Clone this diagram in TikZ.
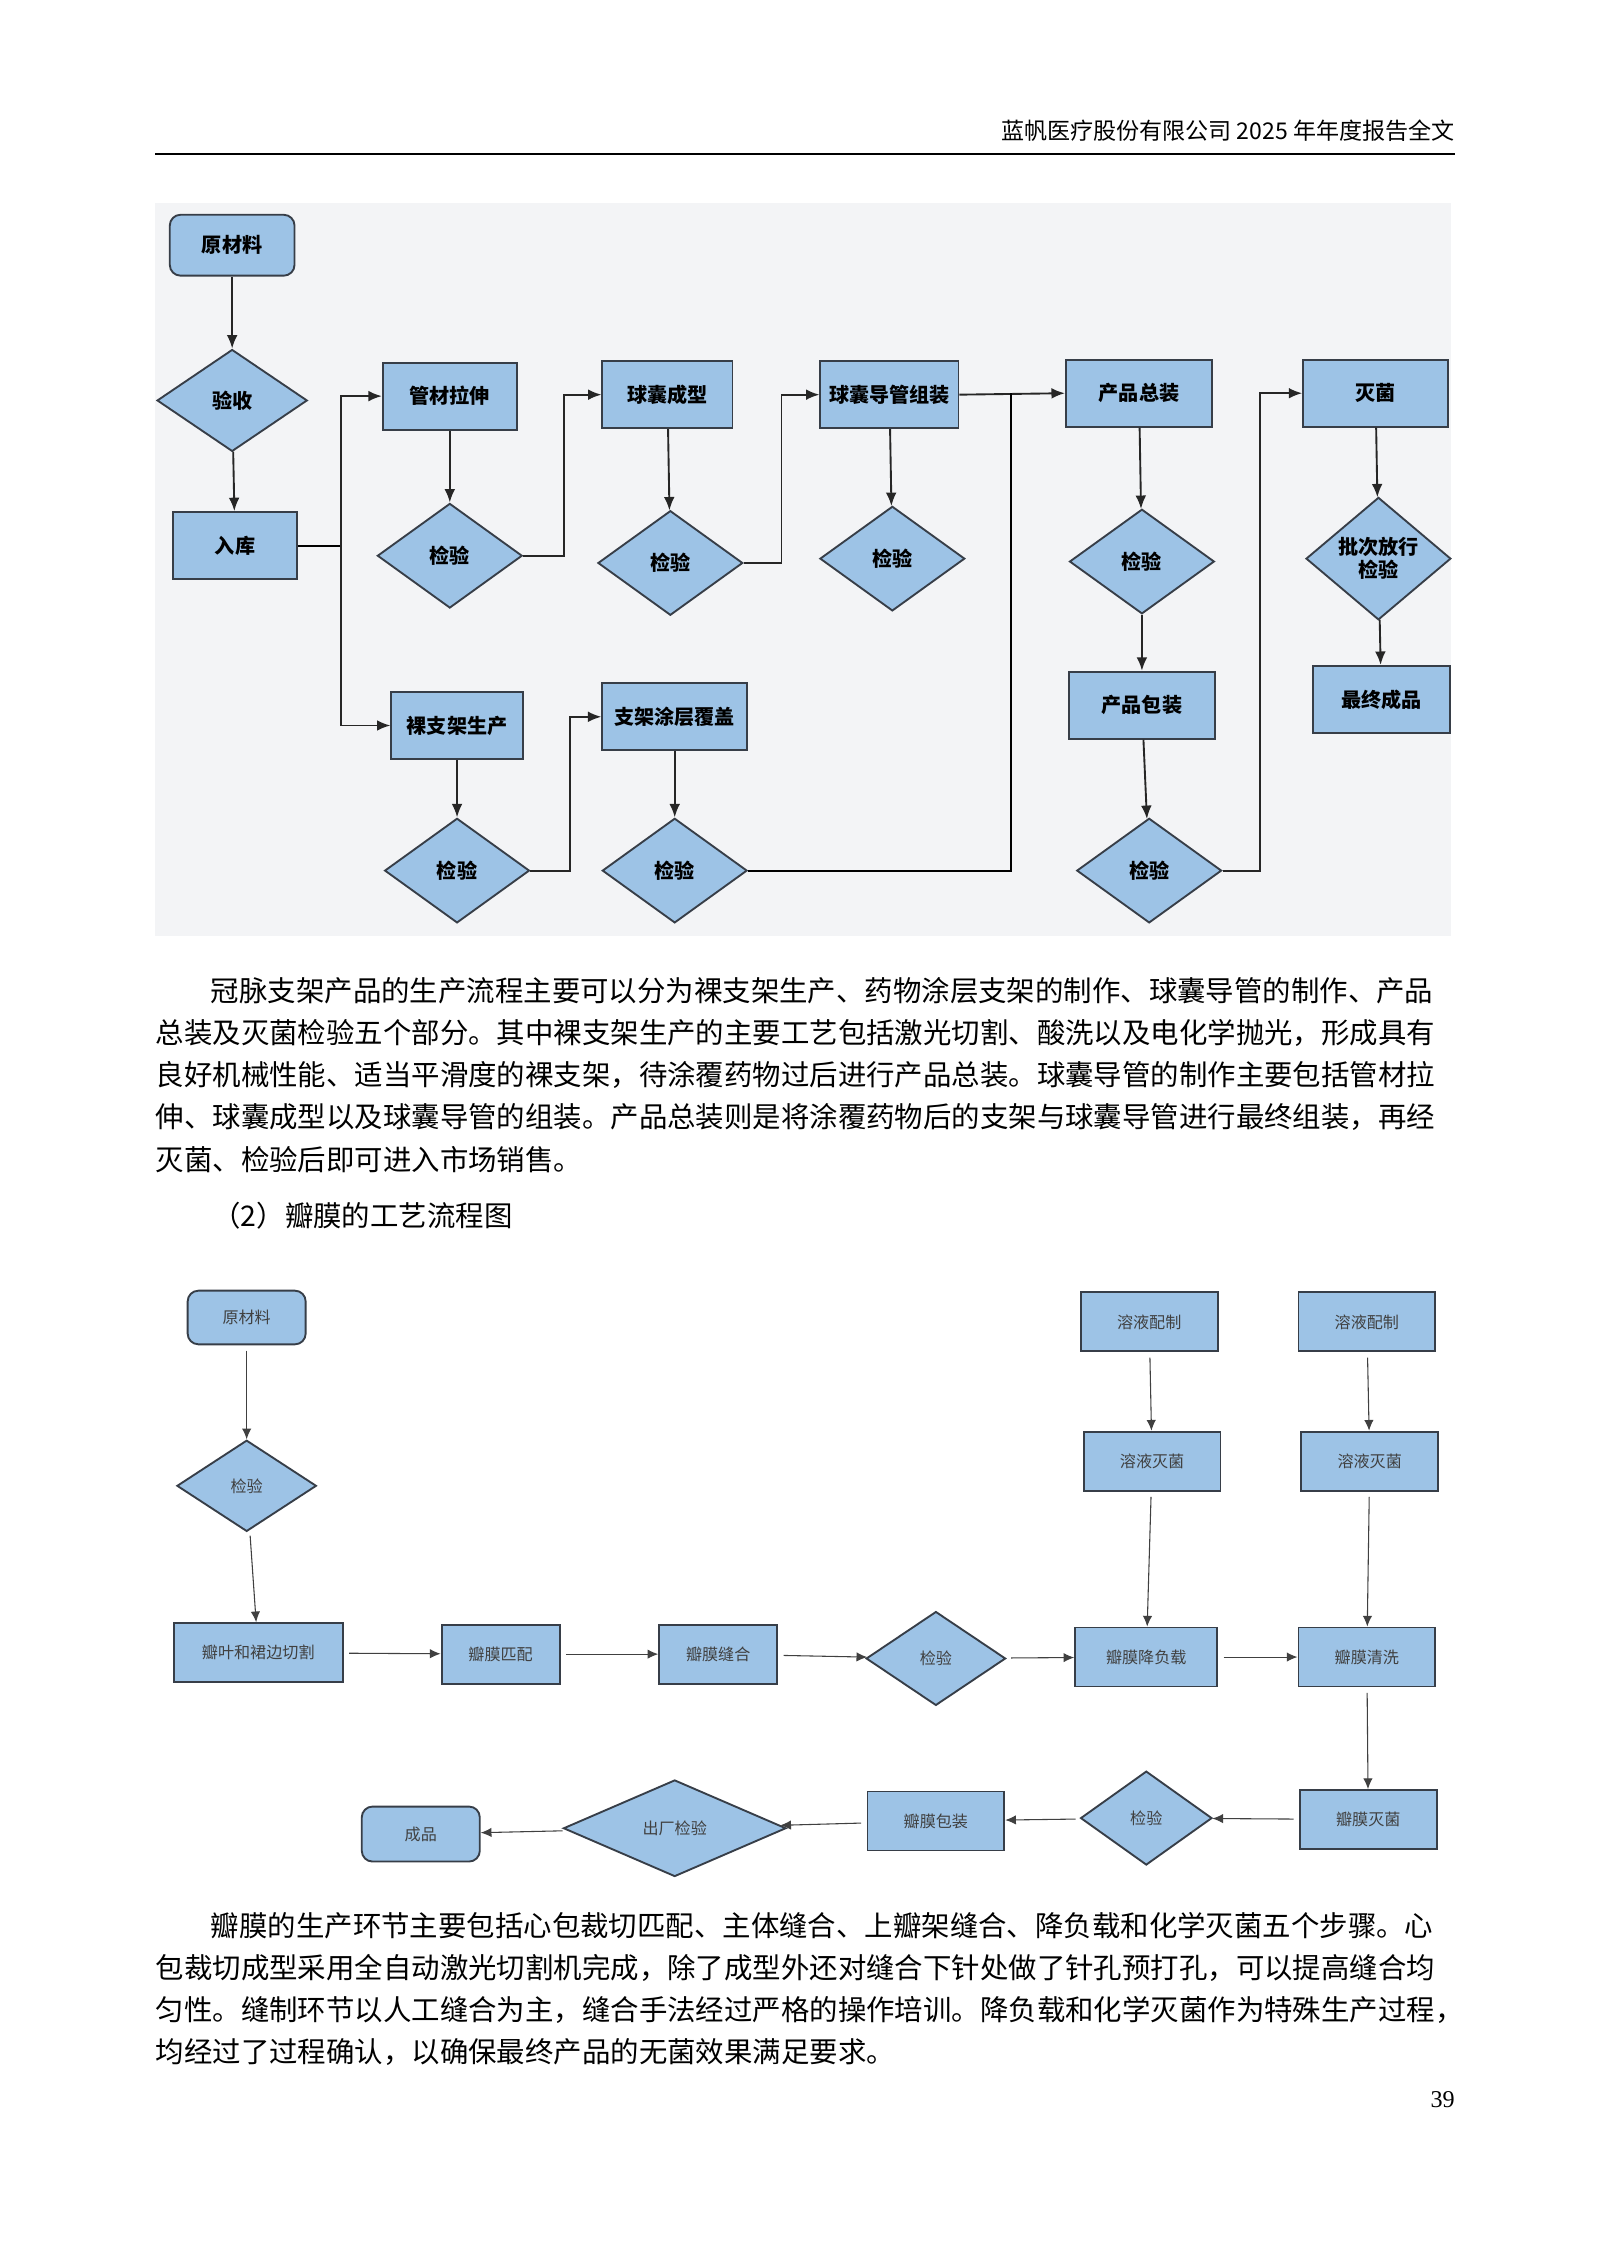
\documentclass[tikz,border=0pt]{standalone}
\usepackage{fontspec}
\setmainfont{Liberation Serif}
\newfontfamily\cjk{Noto Sans CJK SC}
\usetikzlibrary{shapes.geometric,arrows.meta}
\definecolor{boxblue}{RGB}{157,195,230}
\definecolor{boxline}{RGB}{55,62,72}
\definecolor{bggray}{RGB}{243,244,246}
\tikzset{
  box/.style={draw=boxline, fill=boxblue, line width=0.7pt, minimum width=50pt, minimum height=25pt, inner sep=1pt, font=\cjk\bfseries\fontsize{7.5}{8}\selectfont},
  rbox/.style={box, rounded corners=4pt},
  dia/.style={draw=boxline, fill=boxblue, line width=0.7pt, shape=diamond, minimum width=54pt, minimum height=39pt, inner sep=0pt, font=\cjk\bfseries\fontsize{7.5}{8}\selectfont},
  sbox/.style={box, minimum width=50pt, minimum height=22pt, font=\cjk\fontsize{6}{6.5}\selectfont, text=black!75},
  srbox/.style={sbox, rounded corners=4pt},
  sdia/.style={dia, minimum width=52pt, minimum height=34pt, font=\cjk\fontsize{6}{6.5}\selectfont, text=black!75},
  arr/.style={-{Latex[length=5pt,width=4pt]}, line width=0.7pt, black!85},
  sarr/.style={-{Latex[length=4pt,width=3.5pt]}, line width=0.4pt, black!75, shorten <=2pt},
  txt/.style={anchor=west, inner sep=0pt, font=\cjk\fontsize{10.6}{12}\selectfont}
}
\begin{document}
\begin{tikzpicture}[x=0.541pt,y=-0.541pt]
  \useasboundingbox[fill=white] (0,0) rectangle (1100,1555.5);

  % Header
  \node[anchor=east, inner sep=0pt, font=\cjk\fontsize{8.6}{10}\selectfont] (head) at (1003,90) {蓝帆医疗股份有限公司 2025 年年度报告全文};
  \draw[line width=0.7pt] (107,106) -- (1003,106);

  % Stent flow chart
  \fill[bggray] (107,140) rectangle (1000,645);

  \node[rbox, minimum width=46.5pt, minimum height=22.7pt] (yl) at (160,169) {原材料};
  \node[dia, minimum width=56pt, minimum height=38pt] (ys) at (160,276) {验收};
  \node[box, minimum width=46.5pt] (rk) at (162,376) {入库};
  \node[box] (gc) at (310,273) {管材拉伸};
  \node[dia] (jy1) at (310,383) {检验};
  \node[box, minimum width=48.5pt] (qn) at (460,272) {球囊成型};
  \node[dia] (jy2) at (462,388) {检验};
  \node[box, minimum width=51.5pt] (zz) at (613,272) {球囊导管组装};
  \node[dia] (jy3) at (615,385) {检验};
  \node[box, minimum width=54.6pt] (zong) at (785,271) {产品总装};
  \node[dia] (jy4) at (787,387) {检验};
  \node[box, minimum width=54.6pt] (bzh) at (787,486) {产品包装};
  \node[dia] (jy5) at (792,600) {检验};
  \node[box, minimum width=54pt] (mj) at (948,271) {灭菌};
  \node[dia, align=center, font=\cjk\bfseries\fontsize{7.5}{8.5}\selectfont] (pc) at (950,385) {批次放行\\检验};
  \node[box, minimum width=51pt] (zc) at (952,482) {最终成品};
  \node[box, minimum width=49pt] (lz) at (315,500) {裸支架生产};
  \node[dia] (jy6) at (315,600) {检验};
  \node[box, minimum width=54pt] (tc) at (465,494) {支架涂层覆盖};
  \node[dia] (jy7) at (465,600) {检验};

  \coordinate (bus) at (235,376);
  \coordinate (jn) at (697,271);

  \draw[arr] (yl) -- (ys);
  \draw[arr] (ys) -- (rk);
  \draw[line width=0.7pt] (rk.east) -- (bus);
  \draw[arr] (bus) |- (gc.west);
  \draw[arr] (bus) |- (lz.west);
  \draw[arr] (gc) -- (jy1);
  \draw[arr] (jy1.east) -- ++(28,0) |- (qn.west);
  \draw[arr] (qn) -- (jy2);
  \draw[arr] (jy2.east) -- ++(26,0) |- (zz.west);
  \draw[arr] (zz) -- (jy3);
  \draw[arr] (zz.east) -- (zong.west);
  \draw[line width=0.7pt] (jy7.east) -| (jn);
  \draw[arr] (zong) -- (jy4);
  \draw[arr] (jy4) -- (bzh);
  \draw[arr] (bzh) -- (jy5);
  \draw[arr] (jy5.east) -- ++(26,0) |- (mj.west);
  \draw[arr] (mj) -- (pc);
  \draw[arr] (pc) -- (zc);
  \draw[arr] (lz) -- (jy6);
  \draw[arr] (jy6.east) -- ++(27,0) |- (tc.west);
  \draw[arr] (tc) -- (jy7);

  % Text
  \node[txt] (p1a) at (145,683) {冠脉支架产品的生产流程主要可以分为裸支架生产、药物涂层支架的制作、球囊导管的制作、产品};
  \node[txt] (p1b) at (107,712) {总装及灭菌检验五个部分。其中裸支架生产的主要工艺包括激光切割、酸洗以及电化学抛光，形成具有};
  \node[txt] (p1c) at (107,741) {良好机械性能、适当平滑度的裸支架，待涂覆药物过后进行产品总装。球囊导管的制作主要包括管材拉};
  \node[txt] (p1d) at (107,770) {伸、球囊成型以及球囊导管的组装。产品总装则是将涂覆药物后的支架与球囊导管进行最终组装，再经};
  \node[txt] (p1e) at (107,799) {灭菌、检验后即可进入市场销售。};
  \node[txt] (sub) at (146,838) {（2）瓣膜的工艺流程图};

  % Valve flow chart
  \node[srbox, minimum width=44pt, minimum height=20pt] (yl2) at (170,908) {原材料};
  \node[sdia] (jy8) at (170,1024) {检验};
  \node[sbox, minimum width=63pt] (qg) at (178,1139) {瓣叶和裙边切割};
  \node[sbox, minimum width=44pt] (pp) at (345,1140) {瓣膜匹配};
  \node[sbox, minimum width=44pt] (fh) at (495,1140) {瓣膜缝合};
  \node[sdia, minimum height=35pt] (jy9) at (645,1143) {检验};
  \node[sbox, minimum width=53pt] (jfz) at (790,1142) {瓣膜降负载};
  \node[sbox, minimum width=51pt] (qx) at (942,1142) {瓣膜清洗};
  \node[sbox, minimum width=51pt] (rp1) at (792,911) {溶液配制};
  \node[sbox, minimum width=51pt] (rm1) at (794,1007) {溶液灭菌};
  \node[sbox, minimum width=51pt] (rp2) at (942,911) {溶液配制};
  \node[sbox, minimum width=51pt] (rm2) at (944,1007) {溶液灭菌};
  \node[sbox, minimum width=51pt] (mj2) at (943,1254) {瓣膜灭菌};
  \node[sdia, minimum width=49pt, minimum height=35pt] (jy10) at (790,1253) {检验};
  \node[sbox, minimum width=51pt] (bz2) at (645,1255) {瓣膜包装};
  \node[sdia, minimum width=83pt, minimum height=36pt] (cj) at (465,1260) {出厂检验};
  \node[srbox, minimum width=44pt, minimum height=20.5pt] (cp) at (290,1264) {成品};

  \draw[sarr] (yl2) -- (jy8);
  \draw[sarr] (jy8) -- (qg);
  \draw[sarr] (qg) -- (pp);
  \draw[sarr] (pp) -- (fh);
  \draw[sarr] (fh) -- (jy9);
  \draw[sarr] (jy9) -- (jfz);
  \draw[sarr] (jfz) -- (qx);
  \draw[sarr] (rp1) -- (rm1);
  \draw[sarr] (rm1) -- (jfz);
  \draw[sarr] (rp2) -- (rm2);
  \draw[sarr] (rm2) -- (qx);
  \draw[sarr] (qx) -- (mj2);
  \draw[sarr] (mj2) -- (jy10);
  \draw[sarr] (jy10) -- (bz2);
  \draw[sarr] (bz2) -- (cj);
  \draw[sarr] (cj) -- (cp);

  % Text
  \node[txt] (p2a) at (145,1327) {瓣膜的生产环节主要包括心包裁切匹配、主体缝合、上瓣架缝合、降负载和化学灭菌五个步骤。心};
  \node[txt] (p2b) at (107,1356) {包裁切成型采用全自动激光切割机完成，除了成型外还对缝合下针处做了针孔预打孔，可以提高缝合均};
  \node[txt] (p2c) at (107,1385) {匀性。缝制环节以人工缝合为主，缝合手法经过严格的操作培训。降负载和化学灭菌作为特殊生产过程，};
  \node[txt] (p2d) at (107,1414) {均经过了过程确认，以确保最终产品的无菌效果满足要求。};

  \node[anchor=east, inner sep=0pt, font=\fontsize{9}{10}\selectfont] (pg) at (1003,1447) {39};
\end{tikzpicture}
\end{document}
